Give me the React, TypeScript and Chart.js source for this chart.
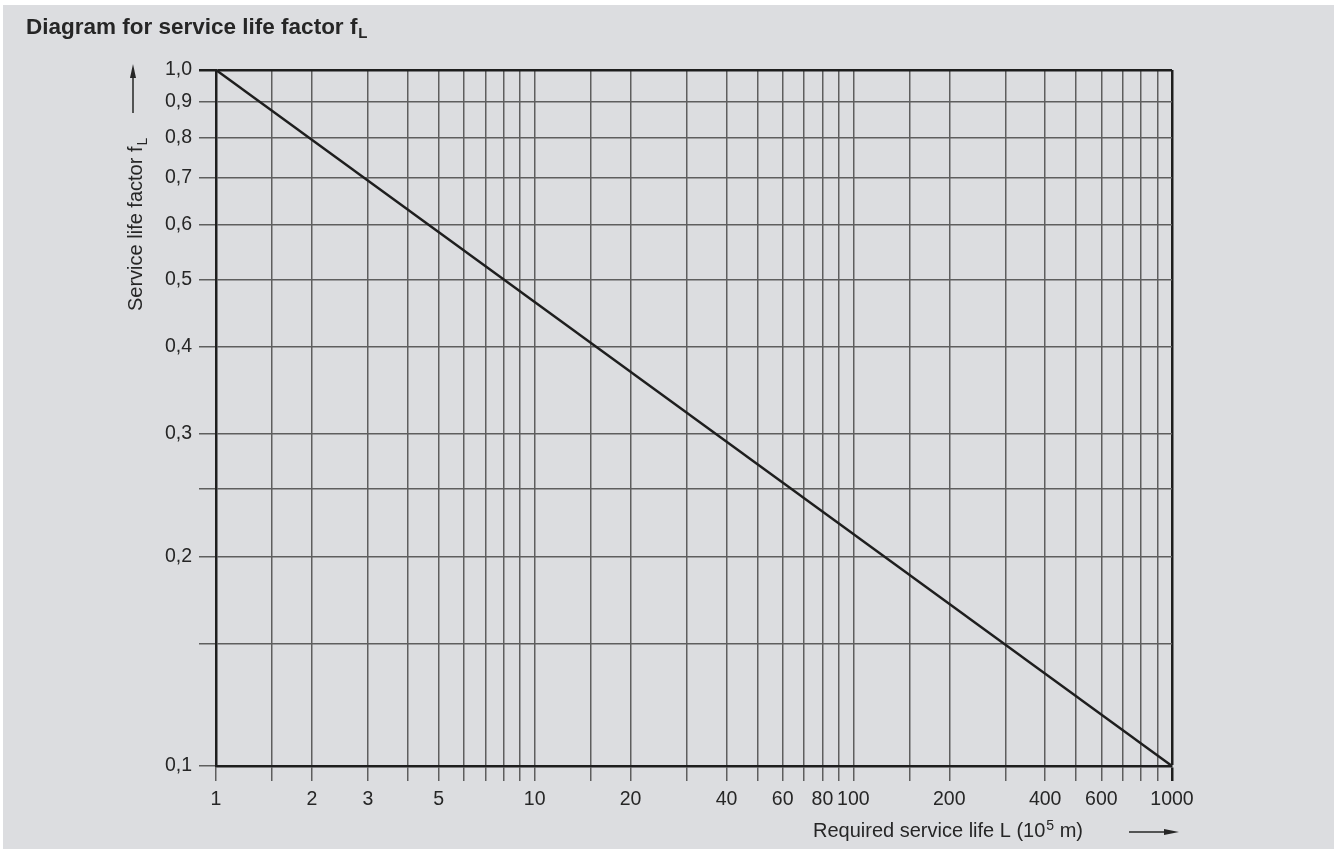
import React, { useEffect, useRef } from "react";
import { Chart, registerables } from "chart.js";

Chart.register(...registerables);

// ---- data ----
const lifeL = [1, 1000];
const factorFL = [1.0, 0.1];

const xGridValues = [
  1, 1.5, 2, 3, 4, 5, 6, 7, 8, 9,
  10, 15, 20, 30, 40, 50, 60, 70, 80, 90,
  100, 150, 200, 300, 400, 500, 600, 700, 800, 900, 1000,
];
const xLabeledValues = [1, 2, 3, 5, 10, 20, 40, 60, 80, 100, 200, 400, 600, 1000];
const xTickLabels = ["1", "2", "3", "5", "10", "20", "40", "60", "80", "100", "200", "400", "600", "1000"];

const yGridValues = [0.1, 0.15, 0.2, 0.25, 0.3, 0.4, 0.5, 0.6, 0.7, 0.8, 0.9, 1.0];
const yLabeledValues = [0.1, 0.2, 0.3, 0.4, 0.5, 0.6, 0.7, 0.8, 0.9, 1.0];
const yTickLabels = ["0,1", "0,2", "0,3", "0,4", "0,5", "0,6", "0,7", "0,8", "0,9", "1,0"];

const mainTitle = "Diagram for service life factor f";
const mainTitleSub = "L";
const yTitle = "Service life factor f";
const yTitleSub = "L";
const xTitleA = "Required service life L (10";
const xTitleSup = "5";
const xTitleB = " m)";

const FONT = '"Liberation Sans", Arial, Helvetica, sans-serif';
const TEXT = "#262626";
const GRID = "#5e5e5e";
const DARK = "#1e1e1e";

function lookup(v: number, vals: number[], labels: string[]) {
  for (let i = 0; i < vals.length; i++) {
    if (Math.abs(vals[i] - v) / vals[i] < 1e-6) return labels[i];
  }
  return "";
}

const titlesPlugin = {
  id: "customTitles",
  afterDraw(chart: any) {
    const ctx = chart.ctx as CanvasRenderingContext2D;
    ctx.save();
    ctx.fillStyle = TEXT;
    ctx.strokeStyle = TEXT;
    ctx.textAlign = "left";
    ctx.textBaseline = "alphabetic";

    // main title
    ctx.font = `bold 22.5px ${FONT}`;
    ctx.fillText(mainTitle, 26, 34);
    const tw = ctx.measureText(mainTitle).width;
    ctx.font = `bold 15px ${FONT}`;
    ctx.fillText(mainTitleSub, 26 + tw + 1, 38);

    // y title (rotated)
    ctx.save();
    ctx.translate(142, 311);
    ctx.rotate(-Math.PI / 2);
    ctx.font = `20px ${FONT}`;
    ctx.fillText(yTitle, 0, 0);
    const yw = ctx.measureText(yTitle).width;
    ctx.font = `14px ${FONT}`;
    ctx.fillText(yTitleSub, yw + 1, 5);
    ctx.restore();

    // up arrow
    ctx.lineWidth = 1.5;
    ctx.beginPath();
    ctx.moveTo(133, 113);
    ctx.lineTo(133, 74);
    ctx.stroke();
    ctx.beginPath();
    ctx.moveTo(133, 64);
    ctx.lineTo(136, 78);
    ctx.lineTo(130, 78);
    ctx.closePath();
    ctx.fill();

    // x title
    ctx.font = `20px ${FONT}`;
    let x = 813;
    const by = 837;
    ctx.fillText(xTitleA, x, by);
    x += ctx.measureText(xTitleA).width + 1;
    ctx.font = `14px ${FONT}`;
    ctx.fillText(xTitleSup, x, by - 7);
    x += ctx.measureText(xTitleSup).width;
    ctx.font = `20px ${FONT}`;
    ctx.fillText(xTitleB, x, by);

    // right arrow
    ctx.beginPath();
    ctx.moveTo(1129, 832);
    ctx.lineTo(1166, 832);
    ctx.stroke();
    ctx.beginPath();
    ctx.moveTo(1179, 832);
    ctx.lineTo(1164, 829);
    ctx.lineTo(1164, 835);
    ctx.closePath();
    ctx.fill();

    ctx.restore();
  },
};

export default function App() {
  const ref = useRef<HTMLCanvasElement | null>(null);

  useEffect(() => {
    if (!ref.current) return;
    const chart = new Chart(ref.current, {
      type: "line",
      data: {
        datasets: [
          {
            data: lifeL.map((x, i) => ({ x, y: factorFL[i] })),
            borderColor: DARK,
            borderWidth: 2.5,
            pointRadius: 0,
            tension: 0,
          },
        ],
      },
      options: {
        animation: false,
        responsive: false,
        devicePixelRatio: 1,
        layout: { padding: { top: 70, right: 166, left: 0, bottom: 0 } },
        plugins: {
          legend: { display: false },
          tooltip: { enabled: false },
          title: { display: false },
        },
        scales: {
          x: {
            type: "logarithmic",
            min: 1,
            max: 1000,
            afterBuildTicks: (s: any) => {
              s.ticks = xGridValues.map((v) => ({ value: v }));
            },
            afterFit: (s: any) => {
              s.height = 84;
            },
            ticks: {
              autoSkip: false,
              maxRotation: 0,
              minRotation: 0,
              padding: 7,
              color: TEXT,
              font: { family: FONT, size: 19.5 },
              callback: (v: any) => lookup(Number(v), xLabeledValues, xTickLabels),
            },
            grid: {
              color: (c: any) => (c.tick && Math.abs(c.tick.value - 1000) < 1e-6 ? DARK : GRID),
              lineWidth: (c: any) => (c.tick && Math.abs(c.tick.value - 1000) < 1e-6 ? 2.5 : 1.5),
              tickLength: 15,
              drawTicks: true,
            },
            border: { display: true, color: DARK, width: 2.5 },
          },
          y: {
            type: "logarithmic",
            min: 0.1,
            max: 1.0,
            afterBuildTicks: (s: any) => {
              s.ticks = yGridValues.map((v) => ({ value: v }));
            },
            afterFit: (s: any) => {
              s.width = 216;
            },
            ticks: {
              autoSkip: false,
              padding: 7,
              color: TEXT,
              font: { family: FONT, size: 19.5 },
              callback: (v: any) => lookup(Number(v), yLabeledValues, yTickLabels),
            },
            grid: {
              color: (c: any) => (c.tick && Math.abs(c.tick.value - 1) < 1e-6 ? DARK : GRID),
              lineWidth: (c: any) => (c.tick && Math.abs(c.tick.value - 1) < 1e-6 ? 2.5 : 1.5),
              tickLength: 17,
              drawTicks: true,
            },
            border: { display: true, color: DARK, width: 2.5 },
          },
        },
      } as any,
      plugins: [titlesPlugin],
    });
    return () => chart.destroy();
  }, []);

  return (
    <div style={{ position: "fixed", left: 0, top: 0, width: 1338, height: 850 }}>
      <div
        style={{
          position: "absolute",
          left: 3,
          top: 5,
          width: 1331,
          height: 844,
          background: "#dcdde0",
        }}
      />
      <canvas
        ref={ref}
        width={1338}
        height={850}
        style={{ position: "absolute", left: 0, top: 0, width: 1338, height: 850 }}
      />
    </div>
  );
}
